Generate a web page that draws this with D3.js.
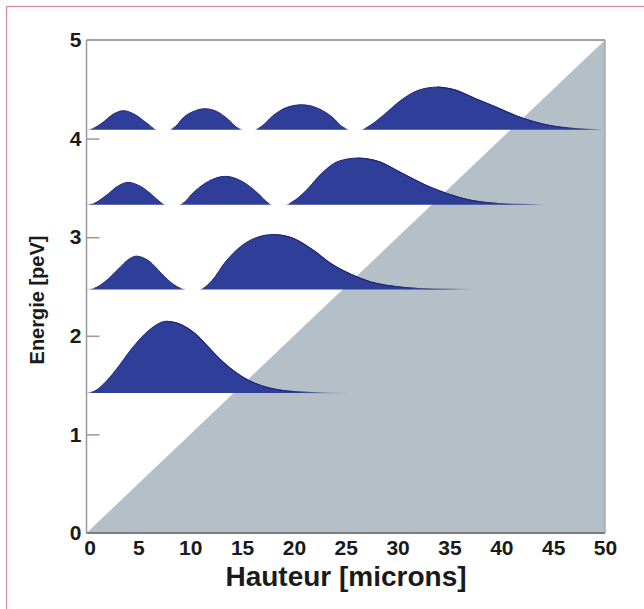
<!DOCTYPE html>
<html>
<head>
<meta charset="utf-8">
<script src="https://cdn.jsdelivr.net/npm/d3@7"></script>
<style>
  html, body { margin: 0; padding: 0; background: #ffffff; }
  svg { display: block; }
</style>
</head>
<body>
<svg id="chart" width="644" height="609"></svg>
<script>
// ---- data ----
const xTicks = [0, 5, 10, 15, 20, 25, 30, 35, 40, 45, 50];
const yTicks = [0, 1, 2, 3, 4, 5];
const xTitle = "Hauteur [microns]";
const yTitle = "Energie [peV]";

// energy levels (peV)
const levels = [1.42, 2.47, 3.33, 4.09];

// probability density of each level: [height in microns, density drawn in peV units above its level]
const state1 = [[0,0],[0.8,0.02],[2.0,0.13],[3.1,0.27],[4.0,0.40],[5.0,0.53],[6.3,0.66],[7.7,0.727],[9.2,0.69],[10.5,0.60],
  [11.8,0.46],[13.0,0.33],[14.3,0.215],[15.6,0.13],[16.9,0.072],[18.5,0.032],[20.4,0.011],[22.3,0.003],[25,0]];
const state2 = [[0,0],[0.7,0.01],[1.8,0.08],[3.1,0.21],[4.0,0.30],[4.8,0.338],[6.0,0.29],[7.25,0.16],[8.4,0.05],[9.6,0],
  [10.9,0],[12.1,0.09],[13.4,0.28],[15.0,0.446],[16.6,0.534],[18.0,0.557],[19.8,0.524],[21.7,0.41],[23.6,0.26],
  [25.6,0.149],[27.5,0.074],[29.8,0.03],[32,0.01],[35,0.003],[37,0]];
const state3 = [[0,0],[0.6,0.008],[1.8,0.085],[3.1,0.193],[4.0,0.226],[5.2,0.186],[6.3,0.10],[7.0,0.035],[7.6,0],
  [8.9,0],[9.5,0.03],[10.1,0.10],[11.75,0.236],[13.4,0.287],[15.0,0.236],[16.6,0.108],[17.3,0.035],[17.9,0],
  [19.2,0],[19.8,0.025],[21.1,0.135],[22.7,0.32],[24.3,0.44],[26.2,0.473],[28.1,0.44],[30.4,0.32],[32.6,0.203],
  [34.9,0.108],[37.1,0.044],[39.7,0.012],[42,0.003],[44,0]];
const state4 = [[0,0],[0.5,0.008],[1.5,0.068],[2.6,0.159],[3.55,0.193],[4.7,0.152],[5.8,0.068],[6.8,0],
  [8.0,0],[8.6,0.035],[9.3,0.118],[10.5,0.193],[11.4,0.213],[12.55,0.186],[13.7,0.10],[14.4,0.03],[15.1,0],
  [16.2,0],[16.9,0.035],[17.9,0.135],[19.3,0.226],[20.75,0.253],[22.4,0.213],[23.8,0.118],[24.6,0.035],[25.4,0],
  [26.5,0],[27.3,0.04],[28.5,0.135],[30.4,0.304],[32.0,0.40],[33.8,0.432],[35.5,0.405],[37.4,0.32],[39.7,0.22],
  [41.6,0.135],[43.9,0.061],[46.5,0.017],[48.5,0.004],[49.7,0]];
const states = [state1, state2, state3, state4];

// ---- drawing ----
const svg = d3.select("#chart");
const defs = svg.append("defs");
const x = d3.scaleLinear().domain([0, 50]).range([86.5, 605]);
const y = d3.scaleLinear().domain([0, 5]).range([533, 40]);

// outer pink frame
svg.append("rect")
  .attr("x", 6.5).attr("y", 6.5).attr("width", 700).attr("height", 700)
  .attr("fill", "none").attr("stroke", "#d8899c").attr("stroke-width", 1.2);

// potential (gray wedge)
svg.append("path")
  .attr("d", d3.line()([[x(0), y(0)], [x(50), y(5)], [x(50), y(0)]]) + "Z")
  .attr("fill", "#b5bfc7");

// states
levels.forEach((E, i) => {
  const data = states[i];
  const area = d3.area()
    .x(d => x(d[0]))
    .y0(y(E))
    .y1(d => y(E + d[1]))
    .curve(d3.curveMonotoneX);
  const line = d3.line()
    .x(d => x(d[0]))
    .y(d => y(E + d[1]))
    .curve(d3.curveMonotoneX);

  // last local maximum = start of the tail
  let peakIdx = 0;
  for (let k = 1; k < data.length - 1; k++) {
    if (data[k][1] > data[k - 1][1] && data[k][1] >= data[k + 1][1]) peakIdx = k;
  }
  const zPeak = data[peakIdx][0];
  const zEnd = data[data.length - 1][0];

  const g = defs.append("linearGradient").attr("id", "fade" + i)
    .attr("gradientUnits", "userSpaceOnUse")
    .attr("x1", x(zPeak)).attr("x2", x(zEnd)).attr("y1", 0).attr("y2", 0);
  g.append("stop").attr("offset", 0).attr("stop-color", "#1d2670").attr("stop-opacity", 1);
  g.append("stop").attr("offset", 0.6).attr("stop-color", "#1d2670").attr("stop-opacity", 0.85);
  g.append("stop").attr("offset", 1).attr("stop-color", "#1d2670").attr("stop-opacity", 0.05);

  // clip so the outline does not run along the baseline between lobes
  defs.append("clipPath").attr("id", "clip" + i)
    .append("rect").attr("x", 0).attr("y", 0).attr("width", 644).attr("height", y(E) - 1.3);

  svg.append("path").attr("d", area(data)).attr("fill", "#2f3e98");
  svg.append("path").attr("d", line(data)).attr("fill", "none")
    .attr("clip-path", `url(#clip${i})`)
    .attr("stroke", "#1d2670").attr("stroke-width", 1);
  svg.append("path").attr("d", line(data.slice(peakIdx))).attr("fill", "none")
    .attr("stroke", `url(#fade${i})`).attr("stroke-width", 1.1);
});

// plot frame
svg.append("line").attr("x1", x(0)).attr("x2", x(50)).attr("y1", y(5)).attr("y2", y(5))
  .attr("stroke", "#a0a0a0").attr("stroke-width", 2);
svg.append("line").attr("x1", x(50)).attr("x2", x(50)).attr("y1", y(5)).attr("y2", y(0))
  .attr("stroke", "#a4acb2").attr("stroke-width", 1.5);
svg.append("line").attr("x1", x(0)).attr("x2", x(0)).attr("y1", y(5)).attr("y2", y(0))
  .attr("stroke", "#999999").attr("stroke-width", 1.5);
svg.append("line").attr("x1", x(0)).attr("x2", x(50)).attr("y1", y(0)).attr("y2", y(0))
  .attr("stroke", "#7d7d7d").attr("stroke-width", 2);

// axes
const font = "'Liberation Sans', Arial, Helvetica, sans-serif";
const yAxis = svg.append("g").attr("transform", `translate(${x(0)},0)`)
  .call(d3.axisLeft(y).tickValues(yTicks).tickFormat(d3.format("d")).tickSizeInner(-13).tickSizeOuter(0).tickPadding(5));
yAxis.select(".domain").remove();
yAxis.selectAll(".tick line").attr("stroke", "#999999").attr("stroke-width", 1.5);
yAxis.selectAll(".tick line").filter(d => d === 0 || d === 5).remove();
yAxis.selectAll("text").attr("font-family", font).attr("font-weight", "bold")
  .attr("font-size", 21).attr("fill", "#1a1a1a");

const xAxis = svg.append("g").attr("transform", `translate(0,${y(0)})`)
  .call(d3.axisBottom(x).tickValues(xTicks).tickFormat(d3.format("d")).tickSize(0).tickPadding(7));
xAxis.select(".domain").remove();
xAxis.selectAll("text").attr("font-family", font).attr("font-weight", "bold")
  .attr("font-size", 21).attr("fill", "#1a1a1a");
xAxis.selectAll(".tick").filter(d => d === 0).select("text").attr("dx", 3);

// titles
svg.append("text")
  .attr("x", 346).attr("y", 586)
  .attr("text-anchor", "middle")
  .attr("font-family", font).attr("font-weight", "bold").attr("font-size", 28)
  .attr("fill", "#1a1a1a")
  .text(xTitle);
svg.append("text")
  .attr("transform", "translate(44,300) rotate(-90)")
  .attr("text-anchor", "middle")
  .attr("font-family", font).attr("font-weight", "bold").attr("font-size", 20)
  .attr("fill", "#1a1a1a")
  .text(yTitle);
</script>
</body>
</html>
